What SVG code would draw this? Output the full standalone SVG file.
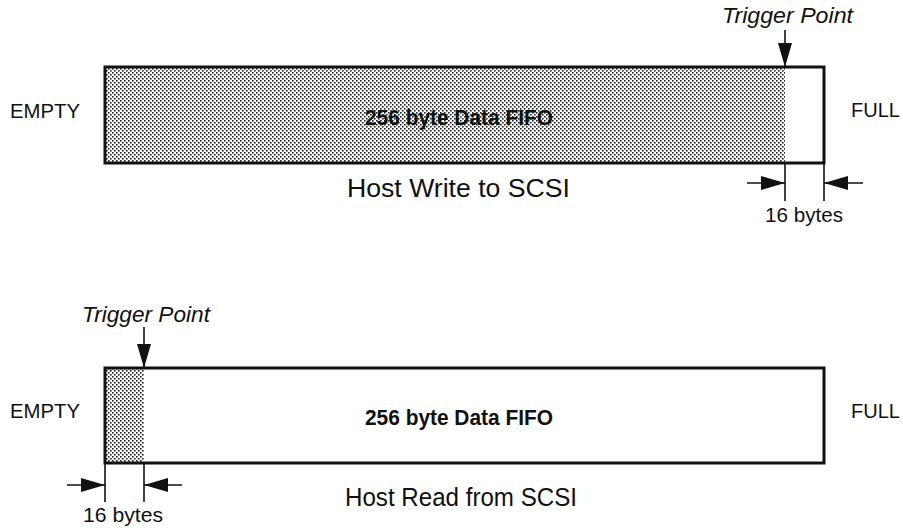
<svg xmlns="http://www.w3.org/2000/svg" width="903" height="530" viewBox="0 0 903 530">
  <style>
    .lbl { font-family: "Liberation Sans", Arial, sans-serif; font-size: 20px; fill: #111; }
    .cap { font-family: "Liberation Sans", Arial, sans-serif; font-size: 25px; fill: #111; }
    .fifo { font-family: "Liberation Sans", Arial, sans-serif; font-size: 22px; font-weight: bold; fill: #111; }
    .trig { font-family: "Liberation Sans", Arial, sans-serif; font-size: 22px; font-style: italic; fill: #111; }
    .box { fill: none; stroke: #111; stroke-width: 3; }
    .ln { stroke: #111; stroke-width: 1.6; fill: none; }
  </style>
  <defs>
    <pattern id="dots" x="0" y="0" width="4" height="4" patternUnits="userSpaceOnUse">
      <rect width="4" height="4" fill="#fff"/>
      <rect x="0" y="0" width="1.6" height="1.6" fill="#222"/>
      <rect x="2" y="2" width="1.6" height="1.6" fill="#222"/>
    </pattern>
    <marker id="ah" viewBox="0 0 24 14" refX="24" refY="7" markerWidth="24" markerHeight="14" markerUnits="userSpaceOnUse" orient="auto">
      <path d="M0,0 L24,7 L0,14 Z" fill="#111"/>
    </marker>
  </defs>

  <!-- Host write FIFO -->
  <g id="fifo-write">
    <rect x="105" y="67" width="680" height="96" fill="url(#dots)"/>
    <rect x="105" y="67" width="719" height="96" class="box"/>
    <text x="459" y="125" class="fifo" text-anchor="middle" textLength="188" lengthAdjust="spacingAndGlyphs">256 byte Data FIFO</text>
  </g>
  <g id="write-empty"><text x="10" y="118" class="lbl" textLength="70" lengthAdjust="spacingAndGlyphs">EMPTY</text></g>
  <g id="write-full"><text x="851" y="117" class="lbl">FULL</text></g>
  <g id="write-trigger"><text x="722" y="23" class="trig" textLength="131" lengthAdjust="spacingAndGlyphs">Trigger Point</text></g>
  <g id="write-caption"><text x="347" y="197" class="cap" textLength="223" lengthAdjust="spacingAndGlyphs">Host Write to SCSI</text></g>
  <g id="write-size"><text x="765" y="222" class="lbl" textLength="78" lengthAdjust="spacingAndGlyphs">16 bytes</text></g>

  <!-- Host read FIFO -->
  <g id="fifo-read">
    <rect x="105" y="368" width="39" height="95" fill="url(#dots)"/>
    <rect x="105" y="368" width="719" height="95" class="box"/>
    <text x="459" y="425" class="fifo" text-anchor="middle" textLength="188" lengthAdjust="spacingAndGlyphs">256 byte Data FIFO</text>
  </g>
  <g id="read-empty"><text x="10" y="418" class="lbl" textLength="70" lengthAdjust="spacingAndGlyphs">EMPTY</text></g>
  <g id="read-full"><text x="851" y="418" class="lbl">FULL</text></g>
  <g id="read-trigger"><text x="82" y="322" class="trig" textLength="128" lengthAdjust="spacingAndGlyphs">Trigger Point</text></g>
  <g id="read-caption"><text x="345" y="506" class="cap" textLength="232" lengthAdjust="spacingAndGlyphs">Host Read from SCSI</text></g>
  <g id="read-size"><text x="83" y="522" class="lbl" textLength="80" lengthAdjust="spacingAndGlyphs">16 bytes</text></g>

  <!-- connectors: trigger arrows and dimension marks -->
  <g id="connectors">
    <line x1="785" y1="30" x2="785" y2="67" class="ln" marker-end="url(#ah)"/>
    <line x1="785" y1="163" x2="785" y2="201" class="ln"/>
    <line x1="824" y1="163" x2="824" y2="201" class="ln"/>
    <line x1="747" y1="183" x2="785" y2="183" class="ln" marker-end="url(#ah)"/>
    <line x1="863" y1="183" x2="824" y2="183" class="ln" marker-end="url(#ah)"/>

    <line x1="144" y1="327" x2="144" y2="368" class="ln" marker-end="url(#ah)"/>
    <line x1="105" y1="463" x2="105" y2="502" class="ln"/>
    <line x1="144" y1="463" x2="144" y2="502" class="ln"/>
    <line x1="67" y1="485" x2="105" y2="485" class="ln" marker-end="url(#ah)"/>
    <line x1="182" y1="485" x2="144" y2="485" class="ln" marker-end="url(#ah)"/>
  </g>
</svg>
